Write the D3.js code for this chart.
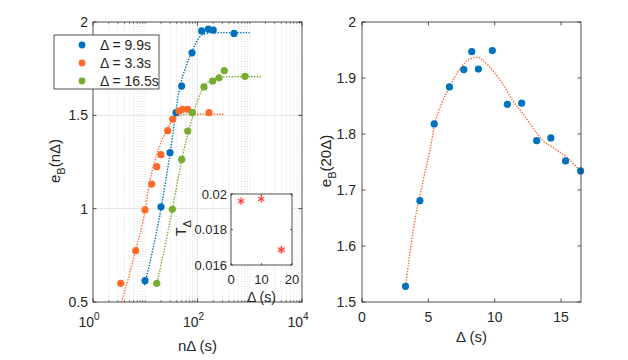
<!DOCTYPE html>
<html>
<head>
<meta charset="utf-8">
<script src="https://cdn.jsdelivr.net/npm/d3@7"></script>
<style>
  body { margin: 0; background: #fff; }
  svg { display: block; font-family: 'Liberation Sans', Arial, sans-serif; }
  .tick-label { font-size: 14px; fill: #262626; }
  .axis-label { font-size: 15px; fill: #262626; }
</style>
</head>
<body>
<script>
// ---- data ----
var blueX = [9.9, 20, 29.8, 38.8, 49.8, 78.5, 120, 161, 200, 500];
var blueY = [0.614, 1.010, 1.300, 1.514, 1.657, 1.835, 1.952, 1.962, 1.957, 1.939];
var orangeX = [3.39, 6.56, 9.9, 13.3, 16.6, 20, 26.9, 33.5, 44.2, 52.1, 64.9, 166];
var orangeY = [0.600, 0.775, 0.993, 1.132, 1.225, 1.289, 1.418, 1.479, 1.523, 1.532, 1.532, 1.514];
var greenX = [16.6, 33, 49.8, 65, 79.6, 133, 195, 258, 326, 811];
var greenY = [0.600, 0.997, 1.264, 1.416, 1.514, 1.652, 1.684, 1.701, 1.739, 1.709];

var blueFitX = [9.7, 20, 30, 46, 60, 78, 95, 111, 140, 174, 300, 1000];
var blueFitY = [0.59, 1.0, 1.30, 1.653, 1.76, 1.84, 1.89, 1.921, 1.936, 1.942, 1.943, 1.943];
var orangeFitX = [3.54, 6.6, 9.9, 11.4, 16.6, 25.7, 34, 46, 60, 100, 330];
var orangeFitY = [0.5, 0.78, 0.99, 1.10, 1.29, 1.421, 1.475, 1.50, 1.505, 1.506, 1.506];
var greenFitX = [16.5, 33.8, 49.8, 71.5, 103.7, 139, 200, 418, 1650];
var greenFitY = [0.59, 1.01, 1.261, 1.44, 1.59, 1.66, 1.694, 1.707, 1.707];

var legendLabels = ['\u0394 = 9.9s', '\u0394 = 3.3s', '\u0394 = 16.5s'];

var insetDelta = [3.3, 9.9, 16.5];
var insetT = [0.0196, 0.01972, 0.01686];

var deltaPts = [3.28, 4.36, 5.44, 6.59, 7.67, 8.27, 8.77, 9.82, 10.95, 12.03, 13.16, 14.23, 15.34, 16.47];
var ePts = [1.528, 1.681, 1.818, 1.884, 1.915, 1.947, 1.916, 1.949, 1.853, 1.855, 1.788, 1.793, 1.752, 1.734];
var fitDelta = [3.28, 3.86, 4.61, 5.11, 5.49, 5.99, 6.57, 7.37, 8.12, 8.74, 9.12, 9.87, 10.62, 11.38, 12.13, 12.88, 13.63, 14.38, 15.39, 16.45];
var fitE = [1.528, 1.628, 1.717, 1.770, 1.818, 1.854, 1.883, 1.916, 1.934, 1.937, 1.931, 1.913, 1.889, 1.859, 1.836, 1.811, 1.788, 1.776, 1.759, 1.734];

var leftXTicks = [1, 100, 10000];
var leftYTicks = [0.5, 1, 1.5, 2];
var insetXTicks = [0, 10, 20];
var insetYTicks = [0.016, 0.018, 0.02];
var rightXTicks = [0, 5, 10, 15];
var rightYTicks = [1.5, 1.6, 1.7, 1.8, 1.9, 2];

var cBlue = '#0072BD', cOrange = '#FF6A2B', cGreen = '#77AC30', axisCol = '#262626';

var width = 628, height = 360;
var svg = d3.select('body').append('svg')
  .attr('width', width).attr('height', height);

function zip(xs, ys) { return xs.map(function (x, i) { return [x, ys[i]]; }); }

// ---- left panel ----
var xL = d3.scaleLog().domain([1, 1e4]).range([93, 302]);
var yL = d3.scaleLinear().domain([0.5, 2]).range([302, 22]);

var gL = svg.append('g');

// minor x grid (dotted) and major grid
var minorX = [];
for (var dec = 0; dec < 4; dec++) {
  for (var m = 2; m <= 10; m++) {
    var v = m * Math.pow(10, dec);
    if (leftXTicks.indexOf(v) < 0 && v < 1e4) minorX.push(v);
  }
}
gL.selectAll('.minor-grid').data(minorX).enter().append('line')
  .attr('x1', function (d) { return xL(d); }).attr('x2', function (d) { return xL(d); })
  .attr('y1', yL(0.5)).attr('y2', yL(2))
  .attr('stroke', '#cccccc').attr('stroke-width', 0.6)
  .attr('stroke-dasharray', '1,1.5');
gL.selectAll('.major-gridx').data(leftXTicks.slice(1, -1)).enter().append('line')
  .attr('x1', function (d) { return xL(d); }).attr('x2', function (d) { return xL(d); })
  .attr('y1', yL(0.5)).attr('y2', yL(2))
  .attr('stroke', '#dedede').attr('stroke-width', 0.8);
gL.selectAll('.major-gridy').data(leftYTicks.slice(1, -1)).enter().append('line')
  .attr('x1', xL(1)).attr('x2', xL(1e4))
  .attr('y1', function (d) { return yL(d); }).attr('y2', function (d) { return yL(d); })
  .attr('stroke', '#dedede').attr('stroke-width', 0.8);

// fit lines
var lineL = d3.line()
  .x(function (d) { return xL(d[0]); })
  .y(function (d) { return yL(d[1]); })
  .curve(d3.curveMonotoneX);

var series = [
  { pts: zip(blueX, blueY), fit: zip(blueFitX, blueFitY), color: cBlue },
  { pts: zip(orangeX, orangeY), fit: zip(orangeFitX, orangeFitY), color: cOrange },
  { pts: zip(greenX, greenY), fit: zip(greenFitX, greenFitY), color: cGreen }
];

series.forEach(function (s) {
  gL.append('path').datum(s.fit)
    .attr('d', lineL)
    .attr('fill', 'none')
    .attr('stroke', s.color)
    .attr('stroke-width', 1.4)
    .attr('stroke-dasharray', '1.4,1.4');
});
series.forEach(function (s) {
  gL.selectAll(null).data(s.pts).enter().append('circle')
    .attr('cx', function (d) { return xL(d[0]); })
    .attr('cy', function (d) { return yL(d[1]); })
    .attr('r', 3.6)
    .attr('fill', s.color);
});

// box + ticks
gL.append('rect')
  .attr('x', xL(1)).attr('y', yL(2))
  .attr('width', xL(1e4) - xL(1)).attr('height', yL(0.5) - yL(2))
  .attr('fill', 'none').attr('stroke', axisCol).attr('stroke-width', 0.8);

minorX.forEach(function (v) {
  gL.append('line').attr('x1', xL(v)).attr('x2', xL(v)).attr('y1', yL(0.5)).attr('y2', yL(0.5) - 1.8)
    .attr('stroke', axisCol).attr('stroke-width', 0.6);
  gL.append('line').attr('x1', xL(v)).attr('x2', xL(v)).attr('y1', yL(2)).attr('y2', yL(2) + 1.8)
    .attr('stroke', axisCol).attr('stroke-width', 0.6);
});
leftXTicks.forEach(function (v) {
  gL.append('line').attr('x1', xL(v)).attr('x2', xL(v)).attr('y1', yL(0.5)).attr('y2', yL(0.5) - 3.5)
    .attr('stroke', axisCol).attr('stroke-width', 0.8);
  gL.append('line').attr('x1', xL(v)).attr('x2', xL(v)).attr('y1', yL(2)).attr('y2', yL(2) + 3.5)
    .attr('stroke', axisCol).attr('stroke-width', 0.8);
  var t = gL.append('text').attr('class', 'tick-label')
    .attr('x', xL(v) - 4).attr('y', 327).attr('text-anchor', 'middle');
  t.append('tspan').text('10');
  t.append('tspan').attr('dy', -7).style('font-size', '10px').text(Math.round(Math.log10(v)));
});
leftYTicks.forEach(function (v) {
  gL.append('line').attr('x1', xL(1)).attr('x2', xL(1) + 3.5).attr('y1', yL(v)).attr('y2', yL(v))
    .attr('stroke', axisCol).attr('stroke-width', 0.8);
  gL.append('line').attr('x1', xL(1e4)).attr('x2', xL(1e4) - 3.5).attr('y1', yL(v)).attr('y2', yL(v))
    .attr('stroke', axisCol).attr('stroke-width', 0.8);
  gL.append('text').attr('class', 'tick-label')
    .attr('x', xL(1) - 5).attr('y', yL(v) + 5).attr('text-anchor', 'end')
    .text(d3.format('~g')(v));
});

gL.append('text').attr('class', 'axis-label')
  .attr('x', (xL(1) + xL(1e4)) / 2).attr('y', 351).attr('text-anchor', 'middle')
  .text('n\u0394 (s)');
var yl = gL.append('text').attr('class', 'axis-label')
  .attr('transform', 'translate(60,161) rotate(-90)').attr('text-anchor', 'middle');
yl.append('tspan').text('e');
yl.append('tspan').attr('dy', 5).style('font-size', '11px').text('B');
yl.append('tspan').attr('dy', -5).text('(n\u0394)');

// legend
var lg = gL.append('g');
lg.append('rect').attr('x', 54).attr('y', 35).attr('width', 105).attr('height', 54)
  .attr('fill', '#fff').attr('stroke', axisCol).attr('stroke-width', 0.8);
legendLabels.forEach(function (lab, i) {
  lg.append('circle').attr('cx', 82).attr('cy', 45 + i * 18).attr('r', 3.4).attr('fill', series[i].color);
  lg.append('text').attr('class', 'tick-label').attr('x', 100).attr('y', 50 + i * 18).text(lab);
});

// inset
var xI = d3.scaleLinear().domain([0, 20]).range([231, 292]);
var yI = d3.scaleLinear().domain([0.016, 0.02]).range([265, 194]);
var gI = svg.append('g');
gI.append('rect')
  .attr('x', xI(0)).attr('y', yI(0.02))
  .attr('width', xI(20) - xI(0)).attr('height', yI(0.016) - yI(0.02))
  .attr('fill', '#fff').attr('stroke', axisCol).attr('stroke-width', 0.8);
insetXTicks.forEach(function (v) {
  gI.append('line').attr('x1', xI(v)).attr('x2', xI(v)).attr('y1', yI(0.016)).attr('y2', yI(0.016) - 2)
    .attr('stroke', axisCol).attr('stroke-width', 0.7);
  gI.append('line').attr('x1', xI(v)).attr('x2', xI(v)).attr('y1', yI(0.02)).attr('y2', yI(0.02) + 2)
    .attr('stroke', axisCol).attr('stroke-width', 0.7);
  gI.append('text').attr('class', 'tick-label').style('font-size', '13px')
    .attr('x', xI(v)).attr('y', 284).attr('text-anchor', 'middle').text(v);
});
insetYTicks.forEach(function (v) {
  gI.append('line').attr('x1', xI(0)).attr('x2', xI(0) + 2).attr('y1', yI(v)).attr('y2', yI(v))
    .attr('stroke', axisCol).attr('stroke-width', 0.7);
  gI.append('line').attr('x1', xI(20)).attr('x2', xI(20) - 2).attr('y1', yI(v)).attr('y2', yI(v))
    .attr('stroke', axisCol).attr('stroke-width', 0.7);
  gI.append('text').attr('class', 'tick-label').style('font-size', '13px')
    .attr('x', xI(0) - 4).attr('y', yI(v) + 4.5).attr('text-anchor', 'end').text(d3.format('~g')(v));
});
var ast = d3.symbol().type(d3.symbolAsterisk).size(40);
var insetPts = zip(insetDelta, insetT);
gI.selectAll(null).data(insetPts).enter().append('circle')
  .attr('cx', function (d) { return xI(d[0]); })
  .attr('cy', function (d) { return yI(d[1]); })
  .attr('r', function (d, i) { return i === 2 ? 3.6 : 3; })
  .attr('fill', '#ffb3b3').attr('opacity', function (d, i) { return i === 2 ? 0.9 : 0.5; });
gI.selectAll(null).data(insetPts).enter().append('path')
  .attr('transform', function (d) { return 'translate(' + xI(d[0]) + ',' + yI(d[1]) + ')'; })
  .attr('d', ast)
  .attr('fill', 'none').attr('stroke', '#ff2020').attr('stroke-width', 0.9);
gI.append('text').attr('class', 'axis-label').style('font-size', '14px')
  .attr('x', (xI(0) + xI(20)) / 2).attr('y', 302).attr('text-anchor', 'middle').text('\u0394 (s)');
var il = gI.append('text').attr('class', 'axis-label').style('font-size', '14px')
  .attr('transform', 'translate(186,228) rotate(-90)').attr('text-anchor', 'middle');
il.append('tspan').text('T');
il.append('tspan').attr('dy', 5).style('font-size', '11px').text('\u0394');

// ---- right panel ----
var xR = d3.scaleLinear().domain([0, 16.5]).range([362, 581]);
var yR = d3.scaleLinear().domain([1.5, 2]).range([302, 22]);
var gR = svg.append('g');

gR.append('path').datum(zip(fitDelta, fitE))
  .attr('d', d3.line()
    .x(function (d) { return xR(d[0]); })
    .y(function (d) { return yR(d[1]); })
    .curve(d3.curveMonotoneX))
  .attr('fill', 'none').attr('stroke', cOrange).attr('stroke-width', 1.4)
  .attr('stroke-dasharray', '1.4,1.4');
gR.selectAll(null).data(zip(deltaPts, ePts)).enter().append('circle')
  .attr('cx', function (d) { return xR(d[0]); })
  .attr('cy', function (d) { return yR(d[1]); })
  .attr('r', 3.6).attr('fill', cBlue);

gR.append('rect')
  .attr('x', xR(0)).attr('y', yR(2))
  .attr('width', xR(16.5) - xR(0)).attr('height', yR(1.5) - yR(2))
  .attr('fill', 'none').attr('stroke', axisCol).attr('stroke-width', 0.8);
rightXTicks.forEach(function (v) {
  gR.append('line').attr('x1', xR(v)).attr('x2', xR(v)).attr('y1', yR(1.5)).attr('y2', yR(1.5) - 3.5)
    .attr('stroke', axisCol).attr('stroke-width', 0.8);
  gR.append('line').attr('x1', xR(v)).attr('x2', xR(v)).attr('y1', yR(2)).attr('y2', yR(2) + 3.5)
    .attr('stroke', axisCol).attr('stroke-width', 0.8);
  gR.append('text').attr('class', 'tick-label')
    .attr('x', xR(v)).attr('y', 322).attr('text-anchor', 'middle').text(v);
});
rightYTicks.forEach(function (v) {
  gR.append('line').attr('x1', xR(0)).attr('x2', xR(0) + 3.5).attr('y1', yR(v)).attr('y2', yR(v))
    .attr('stroke', axisCol).attr('stroke-width', 0.8);
  gR.append('line').attr('x1', xR(16.5)).attr('x2', xR(16.5) - 3.5).attr('y1', yR(v)).attr('y2', yR(v))
    .attr('stroke', axisCol).attr('stroke-width', 0.8);
  gR.append('text').attr('class', 'tick-label')
    .attr('x', xR(0) - 6).attr('y', yR(v) + 5).attr('text-anchor', 'end').text(d3.format('~g')(v));
});
gR.append('text').attr('class', 'axis-label')
  .attr('x', (xR(0) + xR(16.5)) / 2).attr('y', 342).attr('text-anchor', 'middle')
  .text('\u0394 (s)');
var yr = gR.append('text').attr('class', 'axis-label')
  .attr('transform', 'translate(331,161) rotate(-90)').attr('text-anchor', 'middle');
yr.append('tspan').text('e');
yr.append('tspan').attr('dy', 5).style('font-size', '11px').text('B');
yr.append('tspan').attr('dy', -5).text('(20\u0394)');
</script>
</body>
</html>
